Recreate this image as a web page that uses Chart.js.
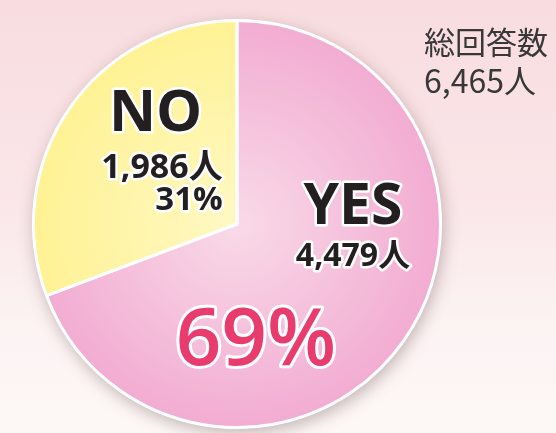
<!DOCTYPE html>
<html>
<head>
<meta charset="utf-8">
<script src="https://cdn.jsdelivr.net/npm/chart.js@4"></script>
<style>
  html, body { margin: 0; padding: 0; }
  body {
    width: 556px; height: 433px; overflow: hidden;
    background: linear-gradient(180deg, #f8dce0 0%, #fae6e8 45%, #fcf3f3 75%, #fdf8f6 100%);
  }
  #wrap { position: relative; width: 556px; height: 433px; }
  #chartCanvas { position: absolute; left: 0; top: 0; }
</style>
</head>
<body>
<div id="wrap"><canvas id="chartCanvas" width="556" height="433"></canvas></div>
<script>
// data ---------------------------------------------------------------------
const categories = ['YES', 'NO'];
const counts = [4479, 1986];
const percentLabels = ['69%', '31%'];
const totalTitle = '総回答数';
const totalLabel = '6,465人';

// slice colours: [centre, rim]
const sliceColors = [['#f9dae8', '#f2acd2'], ['#fff8c4', '#fff294']];

const LATIN = '"Open Sans", "Noto Sans CJK JP", sans-serif';
const CJK = '"Noto Sans CJK JP", "Noto Sans", sans-serif';

function fmt(n){ return n.toLocaleString('en-US') + '人'; }

// radial fill per slice, lighter at the centre (built from the chart area)
function sliceFill(ctx){
  const [inner, outer] = sliceColors[ctx.dataIndex] || sliceColors[0];
  const a = ctx.chart.chartArea;
  if(!a || !isFinite(a.left) || a.right - a.left <= 0) return outer;
  const x = (a.left + a.right) / 2, y = (a.top + a.bottom) / 2;
  const r = Math.min(a.right - a.left, a.bottom - a.top) / 2;
  const g = ctx.chart.ctx.createRadialGradient(x, y, 0, x, y, r);
  g.addColorStop(0, inner);
  g.addColorStop(1, outer);
  return g;
}

// soft shadow under the pie
const pieShadow = {
  id: 'pieShadow',
  beforeDatasetsDraw(chart){
    const arc = chart.getDatasetMeta(0).data[0];
    if(!arc || !isFinite(arc.x)) return;
    const c = chart.ctx;
    c.save();
    c.shadowColor = 'rgba(90,60,60,0.35)';
    c.shadowBlur = 16;
    c.shadowOffsetX = 2;
    c.shadowOffsetY = 5;
    c.beginPath();
    c.arc(arc.x, arc.y, arc.outerRadius + 1, 0, Math.PI * 2);
    c.fillStyle = '#ffffff';
    c.fill();
    c.restore();
  }
};

function outlined(c, text, x, y, font, fill, stroke, align){
  c.font = font;
  c.textAlign = align || 'center';
  c.textBaseline = 'alphabetic';
  c.lineJoin = 'round';
  c.lineWidth = stroke;
  c.strokeStyle = '#ffffff';
  c.strokeText(text, x, y);
  c.fillStyle = fill;
  c.fillText(text, x, y);
}

// slice labels, placed in units of the pie radius
const sliceLabels = {
  id: 'sliceLabels',
  afterDatasetsDraw(chart){
    const arc = chart.getDatasetMeta(0).data[0];
    if(!arc) return;
    const c = chart.ctx, cx = arc.x, cy = arc.y, r = arc.outerRadius;
    const P = (fx, fy) => [cx + fx * r, cy + fy * r];
    c.save();
    // NO
    let p = P(-0.40, -0.455);
    outlined(c, categories[1], p[0], p[1], `bold 58px ${LATIN}`, '#231f20', 5);
    p = P(-0.07, -0.225);
    outlined(c, fmt(counts[1]), p[0], p[1], `bold 34px ${LATIN}`, '#231f20', 5, 'right');
    p = P(-0.07, -0.07);
    outlined(c, percentLabels[1], p[0], p[1], `bold 33px ${LATIN}`, '#231f20', 5, 'right');
    // YES
    p = P(0.57, -0.002);
    outlined(c, categories[0], p[0], p[1], `bold 57px ${LATIN}`, '#231f20', 5);
    p = P(0.57, 0.205);
    outlined(c, fmt(counts[0]), p[0], p[1], `bold 32px ${LATIN}`, '#231f20', 5);
    p = P(0.093, 0.693);
    outlined(c, percentLabels[0], p[0], p[1], `600 80px ${LATIN}`, '#e83c6e', 6);
    c.restore();

    // total, top right
    c.save();
    c.fillStyle = '#383838';
    c.textAlign = 'left';
    c.textBaseline = 'alphabetic';
    c.font = `400 31px ${CJK}`;
    c.fillText(totalTitle, 424, 54);
    c.font = `400 32px ${CJK}`;
    c.fillText(totalLabel, 424, 93);
    c.restore();
  }
};

new Chart(document.getElementById('chartCanvas').getContext('2d'), {
  type: 'pie',
  data: {
    labels: categories,
    datasets: [{
      data: counts,
      backgroundColor: sliceFill,
      borderColor: '#ffffff',
      borderWidth: 3,
      clip: false
    }]
  },
  options: {
    responsive: false,
    animation: false,
    layout: { padding: { left: 32, right: 114, top: 19, bottom: 4 } },
    plugins: { legend: { display: false }, tooltip: { enabled: false } },
    events: []
  },
  plugins: [pieShadow, sliceLabels]
});
</script>
</body>
</html>
